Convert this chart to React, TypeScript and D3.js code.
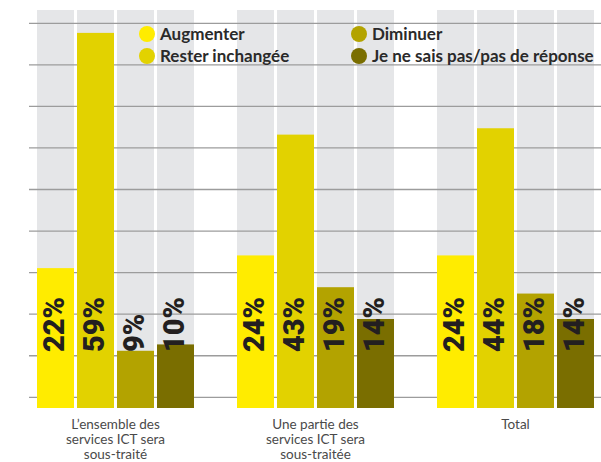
import React from "react";
import * as d3 from "d3";

const categories = ["ensemble", "partie", "total"];
const categoryLines = [
  ["L’ensemble des", "services ICT sera", "sous-traité"],
  ["Une partie des", "services ICT sera", "sous-traitée"],
  ["Total"],
];
const seriesNames = ["Augmenter", "Rester inchangée", "Diminuer", "Je ne sais pas/pas de réponse"];
const augmenter = [22, 24, 24];
const resterInchangee = [59, 43, 44];
const diminuer = [9, 19, 18];
const neSaisPas = [10, 14, 14];
const seriesValues = [augmenter, resterInchangee, diminuer, neSaisPas];
const seriesColors = ["#FFEC00", "#E2D200", "#B3A300", "#7A6E00"];
const gridTicks = d3.range(10);
const yMax = 62.6;

const W = 601;
const H = 462;

export default function App() {
  const x0 = d3.scaleBand<string>().domain(categories).range([37, 594]).paddingInner(0.215).paddingOuter(0);
  const x1 = d3
    .scaleBand<string>()
    .domain(seriesNames)
    .range([0, x0.bandwidth()])
    .paddingInner(0.075)
    .paddingOuter(0);
  const y = d3.scaleLinear().domain([0, yMax]).range([408, 10]);
  const gy = d3.scaleLinear().domain([0, 9]).range([397.3, 23.3]);

  const legendX = d3.scaleOrdinal<string, number>().domain(seriesNames).range([147, 147, 359, 359]);
  const legendY = d3.scaleOrdinal<string, number>().domain(seriesNames).range([34, 56, 34, 56]);

  return (
    <svg
      width={W}
      height={H}
      style={{ position: "absolute", left: 0, top: 0, background: "#fff" }}
      xmlns="http://www.w3.org/2000/svg"
    >
      {categories.map((c) =>
        seriesNames.map((s) => (
          <rect
            key={c + s + "bg"}
            x={(x0(c) as number) + (x1(s) as number)}
            y={y(yMax)}
            width={x1.bandwidth()}
            height={y(0) - y(yMax)}
            fill="#E5E6E8"
          />
        ))
      )}
      {gridTicks.map((t) => (
        <line key={"g" + t} x1={29} x2={W} y1={gy(t)} y2={gy(t)} stroke="#9C9C9C" strokeWidth={1.3} />
      ))}
      {categories.map((c, ci) =>
        seriesNames.map((s, si) => {
          const v = seriesValues[si][ci];
          const bx = (x0(c) as number) + (x1(s) as number);
          return (
            <rect
              key={c + s}
              x={bx}
              y={y(v)}
              width={x1.bandwidth()}
              height={y(0) - y(v)}
              fill={seriesColors[si]}
            />
          );
        })
      )}
      {categories.map((c, ci) =>
        seriesNames.map((s, si) => {
          const v = seriesValues[si][ci];
          const bx = (x0(c) as number) + (x1(s) as number) + 27;
          const by = 352;
          return (
            <text
              key={c + s + "t"}
              transform={`translate(${bx},${by}) rotate(-90)`}
              fontFamily="Roboto"
              fontWeight={900}
              fontSize={29}
              fill="#231F20"
            >
              {v}%
            </text>
          );
        })
      )}
      {seriesNames.map((s, si) => (
        <g key={"l" + s}>
          <circle cx={legendX(s)} cy={legendY(s)} r={8} fill={seriesColors[si]} />
          <text
            x={legendX(s) + 13}
            y={legendY(s) + 6}
            fontFamily="Lato"
            fontWeight={700}
            fontSize={17}
            fill="#2A2A2A"
          >
            {s}
          </text>
        </g>
      ))}
      {categories.map((c, ci) =>
        categoryLines[ci].map((line, li) => (
          <text
            key={"c" + c + li}
            x={(x0(c) as number) + x0.bandwidth() / 2}
            y={428.5 + li * 15}
            textAnchor="middle"
            fontFamily="Lato"
            fontSize={13.5}
            fill="#4A4A4A"
          >
            {line}
          </text>
        ))
      )}
    </svg>
  );
}
